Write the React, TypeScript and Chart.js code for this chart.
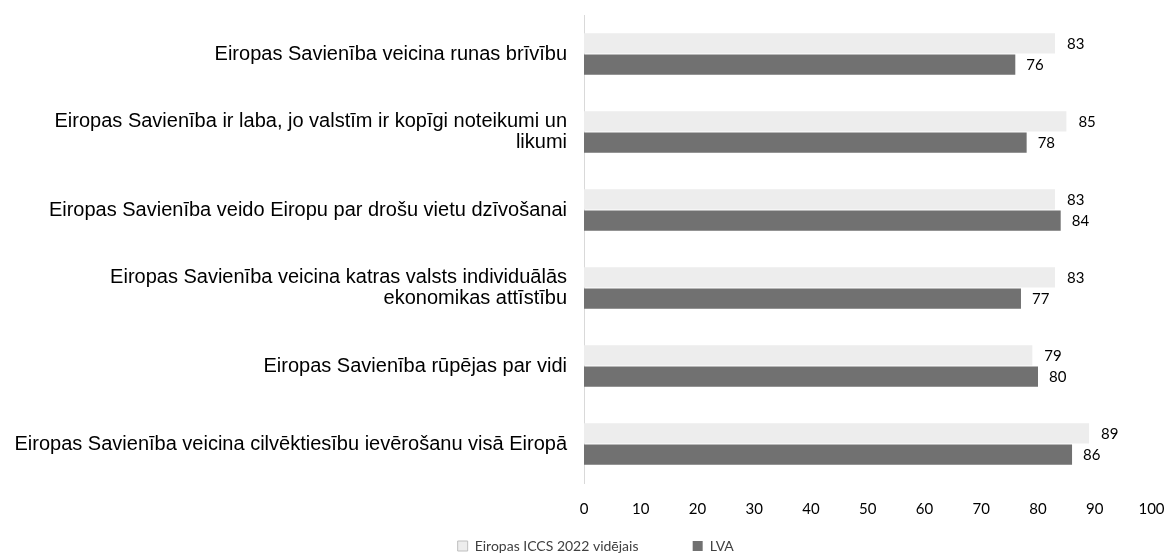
import React, { useEffect, useRef } from "react";
import { Chart, registerables } from "chart.js";

Chart.register(...registerables);

const categories: (string | string[])[] = [
  "Eiropas Savienība veicina runas brīvību",
  ["Eiropas Savienība ir laba, jo valstīm ir kopīgi noteikumi un", "likumi"],
  "Eiropas Savienība veido Eiropu par drošu vietu dzīvošanai",
  ["Eiropas Savienība veicina katras valsts individuālās", "ekonomikas attīstību"],
  "Eiropas Savienība rūpējas par vidi",
  "Eiropas Savienība veicina cilvēktiesību ievērošanu visā Eiropā",
];

const iccsValues = [83, 85, 83, 83, 79, 89];
const lvaValues = [76, 78, 84, 77, 80, 86];

const seriesNames = ["Eiropas ICCS 2022 vidējais", "LVA"];
const xTicks = [0, 10, 20, 30, 40, 50, 60, 70, 80, 90, 100];

const labelPlugin = {
  id: "barValueLabels",
  afterDatasetsDraw(chart: any) {
    const ctx = chart.ctx;
    ctx.save();
    ctx.font = "15px Lato";
    ctx.fillStyle = "#000000";
    ctx.textAlign = "left";
    ctx.textBaseline = "middle";
    chart.data.datasets.forEach((ds: any, di: number) => {
      const meta = chart.getDatasetMeta(di);
      meta.data.forEach((el: any, i: number) => {
        const offset = di === 0 ? 12 : 11;
        ctx.fillText(String(ds.data[i]), el.x + offset, el.y + 1);
      });
    });
    ctx.restore();
  },
};

export default function App() {
  const canvasRef = useRef<HTMLCanvasElement | null>(null);

  useEffect(() => {
    document.body.style.margin = "0";
    const canvas = canvasRef.current;
    if (!canvas) return;
    const chart = new Chart(canvas, {
      type: "bar",
      data: {
        labels: categories,
        datasets: [
          {
            label: seriesNames[0],
            data: iccsValues,
            backgroundColor: "#EDEDED",
            borderColor: "#BFBFBF",
            borderWidth: 0,
            barPercentage: 0.96,
            categoryPercentage: 0.54,
          },
          {
            label: seriesNames[1],
            data: lvaValues,
            backgroundColor: "#717171",
            borderColor: "#717171",
            borderWidth: 0,
            barPercentage: 0.96,
            categoryPercentage: 0.54,
          },
        ],
      },
      options: {
        indexAxis: "y",
        animation: false,
        responsive: false,
        maintainAspectRatio: false,
        layout: { padding: { top: 15, right: -23.5, left: 0, bottom: 0 } },
        scales: {
          x: {
            min: 0,
            max: 100,
            afterBuildTicks: (scale: any) => {
              scale.ticks = xTicks.map((v) => ({ value: v }));
            },
            afterFit: (scale: any) => {
              scale.height = 52;
              scale.paddingLeft = 0;
              scale.paddingRight = 16.5;
            },
            grid: { display: false, drawTicks: false },
            border: { display: false },
            ticks: {
              color: "#000000",
              font: { family: "Lato", size: 15 },
              padding: 17,
              maxRotation: 0,
            },
          },
          y: {
            grid: { display: false, drawTicks: false },
            border: { display: true, color: "#D9D9D9", width: 1 },
            afterFit: (scale: any) => {
              scale.width = 584;
              scale.paddingTop = 0;
              scale.paddingBottom = 0;
            },
            ticks: {
              color: "#000000",
              font: { family: "Liberation Sans", size: 20, lineHeight: 1.05 },
              padding: 17,
              autoSkip: false,
            },
          },
        },
        plugins: {
          legend: {
            position: "bottom",
            maxHeight: 21,
            labels: {
              color: "#404040",
              font: { family: "Lato", size: 14 },
              boxWidth: 10,
              boxHeight: 10,
              padding: 4,
              generateLabels: (chart: any) => {
                const items = Chart.defaults.plugins.legend.labels.generateLabels(chart);
                items.forEach((it: any, i: number) => {
                  if (i === 0) {
                    it.text = it.text + "              ";
                    it.strokeStyle = "#BFBFBF";
                    it.lineWidth = 1;
                  } else {
                    it.lineWidth = 0;
                  }
                });
                return items;
              },
            },
          },
          tooltip: { enabled: false },
        },
      },
      plugins: [labelPlugin],
    });
    return () => chart.destroy();
  }, []);

  return (
    <div style={{ width: 1168, height: 556 }}>
      <canvas ref={canvasRef} width={1168} height={556} style={{ display: "block" }} />
    </div>
  );
}
